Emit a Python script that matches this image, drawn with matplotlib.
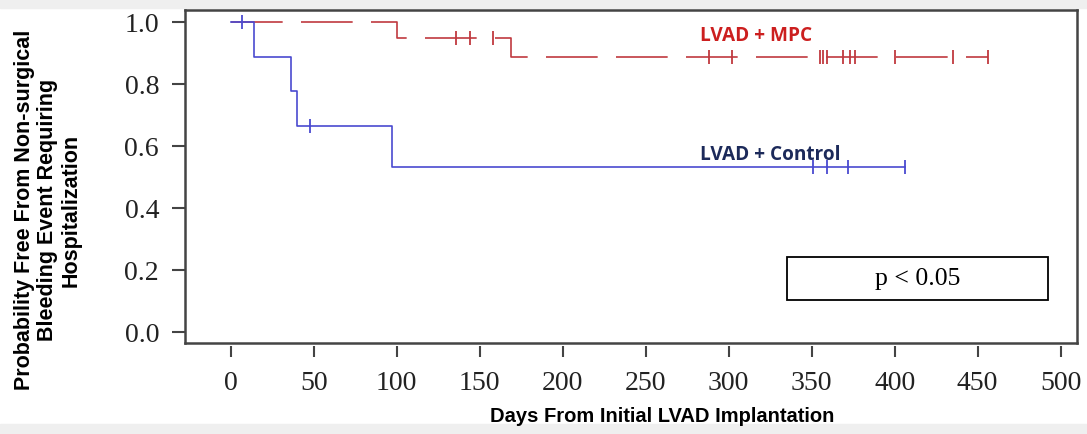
import matplotlib
matplotlib.use("Agg")
import matplotlib.pyplot as plt
from matplotlib.patches import Rectangle

# Kaplan-Meier steps (days, survival after step)
mpc_times = [0, 100, 169, 456]
mpc_surv = [1.0, 0.95, 0.889, 0.889]
mpc_censor = [136, 144, 158, 288, 302, 355, 357, 359, 369, 373, 376, 400, 435, 456]

ctl_times = [0, 14, 36, 40, 97, 406]
ctl_surv = [1.0, 0.889, 0.778, 0.667, 0.533, 0.533]
ctl_censor = [7, 48, 351, 359, 372, 406]

x_ticks = [0, 50, 100, 150, 200, 250, 300, 350, 400, 450, 500]
y_ticks = [0.0, 0.2, 0.4, 0.6, 0.8, 1.0]

RED = "#c0393f"
BLUE = "#4a4ad0"


def level_at(times, surv, t):
    v = surv[0]
    for ti, si in zip(times, surv):
        if ti <= t:
            v = si
    return v


fig = plt.figure(figsize=(10.87, 4.34), dpi=100, facecolor="white")
# grey page bands top and bottom
fig.patches.append(Rectangle((0, 0.982), 1, 0.02, transform=fig.transFigure,
                             color="#efefef", zorder=-1))
fig.patches.append(Rectangle((0, 0), 1, 0.024, transform=fig.transFigure,
                             color="#efefef", zorder=-1))

ax = fig.add_axes([0.170, 0.2097, 0.821, 0.767])
ax.set_xlim(-27.7, 510)
ax.set_ylim(-0.035, 1.04)

# MPC (red, long dashes)
ax.step(mpc_times, mpc_surv, where="post", color=RED, lw=1.2,
        dashes=(31, 11), zorder=3)
ax.plot(mpc_censor, [level_at(mpc_times, mpc_surv, t) for t in mpc_censor],
        ls="none", marker="|", ms=10, mew=1.3, color=RED, zorder=3)

# control (blue, solid)
ax.step(ctl_times, ctl_surv, where="post", color=BLUE, lw=1.2, zorder=3)
ax.plot(ctl_censor, [level_at(ctl_times, ctl_surv, t) for t in ctl_censor],
        ls="none", marker="|", ms=10, mew=1.3, color=BLUE, zorder=3)

ax.text(283, 0.958, "LVAD + MPC", color="#cc1f1f", fontsize=13.7,
        fontweight="bold", family="Open Sans", va="center", ha="left")
ax.text(283, 0.571, "LVAD + Control", color="#1c2a5a", fontsize=13.7,
        fontweight="bold", family="Open Sans", va="center", ha="left")

# p-value box
ax.add_patch(Rectangle((0.675, 0.129), 0.2925, 0.129, transform=ax.transAxes,
                       fill=False, ec="black", lw=1.3, zorder=4))
ax.text(0.675 + 0.2925 / 2, 0.129 + 0.129 / 2, "p < 0.05", transform=ax.transAxes,
        ha="center", va="center", fontsize=18.5, family="Liberation Serif")

for sp in ax.spines.values():
    sp.set_color("#444444")
    sp.set_linewidth(1.8)

ax.set_yticks(y_ticks)
ax.set_yticklabels([f"{v:.1f}" for v in y_ticks], family="Liberation Serif",
                   fontsize=20, color="#222222")
ax.tick_params(axis="y", length=9.5, width=1.5, color="#444444", pad=9)

# x ticks are detached from the frame
ax.set_xticks([])
sec = ax.secondary_xaxis(-0.009)
sec.spines["bottom"].set_visible(False)
sec.set_xticks(x_ticks)
sec.set_xticklabels([str(v) for v in x_ticks], family="Liberation Serif",
                    fontsize=20, color="#222222")
sec.tick_params(axis="x", length=8, width=1.5, color="#444444", pad=10)
sec.set_xlabel("Days From Initial LVAD Implantation", family="Liberation Sans",
               fontweight="bold", fontsize=14.5, labelpad=8)
sec.xaxis.label.set_x(0.535)

fig.text(0.044, 0.516, "Probability Free From Non-surgical\nBleeding Event Requiring\nHospitalization",
         rotation=90, ha="center", va="center", family="Liberation Sans",
         fontweight="bold", fontsize=15.5, linespacing=1.15, multialignment="center")

fig.savefig("out.png", dpi=100, facecolor=fig.get_facecolor())
